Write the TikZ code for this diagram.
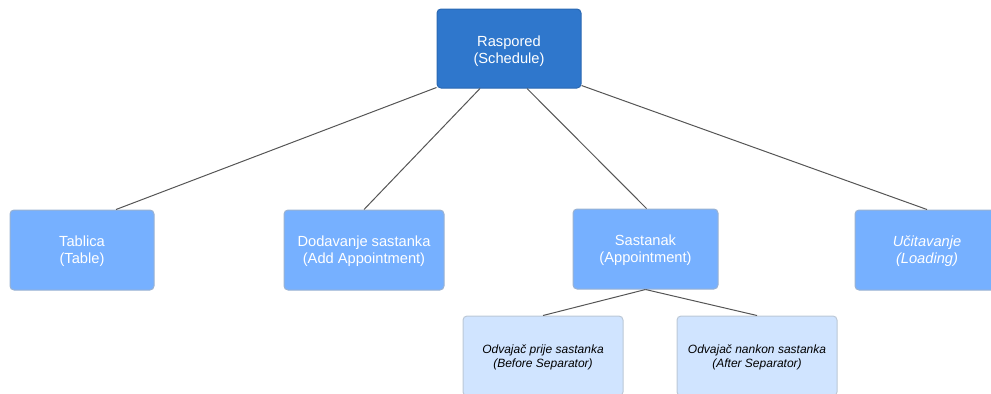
\documentclass[tikz,border=0pt]{standalone}
\usepackage{fontspec}
\setmainfont{Liberation Sans}
\usetikzlibrary{calc}

\definecolor{topblue}{HTML}{2F77CC}
\definecolor{topedge}{HTML}{2A68B2}
\definecolor{midblue}{HTML}{76B0FF}
\definecolor{midedge}{HTML}{9AB2D2}
\definecolor{subblue}{HTML}{D0E4FF}
\definecolor{subedge}{HTML}{BCC8D6}
\definecolor{linkgray}{HTML}{555555}

\tikzset{every picture/.style={line width=0.75pt}}
\tikzset{
  topbox/.style={draw=topedge, fill=topblue, rounded corners=3pt, text=white, align=center,
    minimum width=108pt, minimum height=59.25pt, inner sep=0pt, text height=25.7pt, text depth=2.5pt,
    font=\fontsize{11}{12.75}\selectfont},
  midbox/.style={draw=midedge, fill=midblue, rounded corners=3pt, text=white, align=center,
    minimum height=60pt, inner sep=0pt, text height=22pt, text depth=2.5pt,
    font=\fontsize{11}{12.75}\selectfont},
  subbox/.style={draw=subedge, fill=subblue, rounded corners=3pt, text=black, align=center,
    minimum width=120pt, minimum height=60pt, inner sep=0pt, text height=19pt, text depth=2pt,
    font=\fontsize{9}{10.25}\selectfont\itshape},
  link/.style={draw=linkgray, line width=0.75pt}
}

\begin{document}
\begin{tikzpicture}[x=0.75pt,y=0.75pt,yscale=-1,xscale=1]
\useasboundingbox (0,0) rectangle (991,393);
\clip (0,0) rectangle (991,393);

%Top
\draw (509,48.5) node [topbox] (raspored) {Raspored\\(Schedule)};

%Second row
\draw (82,250) node [midbox, minimum width=108pt] (tablica) {Tablica\\(Table)};
\draw (364,250) node [midbox, minimum width=120pt] (dodavanje) {Dodavanje sastanka\\(Add Appointment)};
\draw (645.5,249) node [midbox, minimum width=108.75pt] (sastanak) {Sastanak\\(Appointment)};
\draw (927,250) node [midbox, minimum width=108pt] (ucitavanje) {\textit{Učitavanje}\\\textit{(Loading)}};

%Third row
\draw (543,356) node [subbox] (prije) {Odvajač prije sastanka\\(Before Separator)};
\draw (757,356) node [subbox] (nakon) {Odvajač nankon sastanka\\(After Separator)};

%Links
\draw [link] ($(raspored.south west)+(0,-1)$) -- ($(tablica.north)+(34,0)$) ;
\draw [link] ($(raspored.south)+(-29,0)$) -- (dodavanje.north) ;
\draw [link] ($(raspored.south)+(18,0)$) -- ($(sastanak.north)+(1,0)$) ;
\draw [link] ($(raspored.south east)+(0,-3)$) -- (ucitavanje.north) ;
\draw [link] (sastanak.south) -- (prije.north) ;
\draw [link] (sastanak.south) -- (nakon.north) ;

\end{tikzpicture}
\end{document}
